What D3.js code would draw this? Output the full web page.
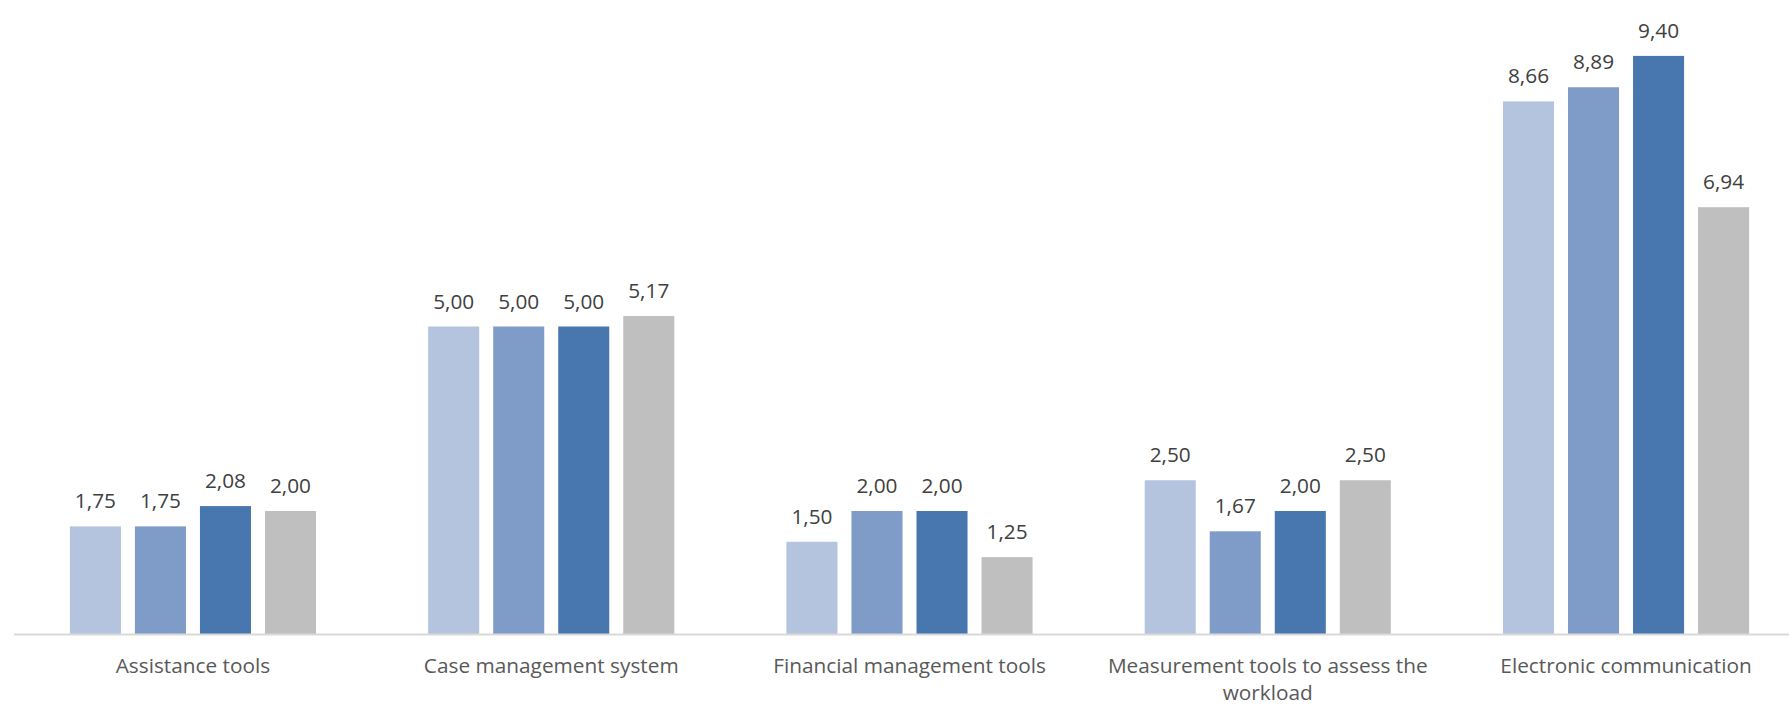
<!DOCTYPE html>
<meta charset="utf-8">
<style>
    body {
        margin: 0;
        background: #fff;
    }
    text {
        font-family: "Open Sans", sans-serif;
    }
</style>

<body>
    <script src="https://d3js.org/d3.v7.min.js"></script>
    <script>
        var width = 1789
        var height = 705

        var categories = [
            'Assistance tools',
            'Case management system',
            'Financial management tools',
            'Measurement tools to assess the workload',
            'Electronic communication'
        ]
        var seriesNames = ['s1', 's2', 's3', 's4']
        var s1 = [1.75, 5.00, 1.50, 2.50, 8.66]
        var s2 = [1.75, 5.00, 2.00, 1.67, 8.89]
        var s3 = [2.08, 5.00, 2.00, 2.00, 9.40]
        var s4 = [2.00, 5.17, 1.25, 2.50, 6.94]
        var colors = ['#b4c4de', '#7f9cc8', '#4877af', '#bfbfbf']

        var series = [s1, s2, s3, s4]
        var rows = categories.map(function (c, i) {
            return { cat: c, values: series.map(function (s, j) { return { key: seriesNames[j], v: s[i] } }) }
        })

        var svg = d3.select('body')
            .append('svg')
            .attr('width', width)
            .attr('height', height)

        var x0 = d3.scaleBand()
            .domain(categories)
            .range([14, 1805])
            .paddingInner(0.313)
            .paddingOuter(0.156)

        var x1 = d3.scaleBand()
            .domain(seriesNames)
            .range([0, x0.bandwidth()])
            .paddingInner(0.215)

        var y = d3.scaleLinear()
            .domain([0, 10])
            .range([634, 19])

        var groups = svg.selectAll('.group')
            .data(rows)
            .enter().append('g')
            .attr('class', 'group')
            .attr('transform', function (d) { return 'translate(' + x0(d.cat) + ',0)' })

        groups.selectAll('rect')
            .data(function (d) { return d.values })
            .enter().append('rect')
            .attr('x', function (d) { return x1(d.key) })
            .attr('width', x1.bandwidth())
            .attr('y', function (d) { return y(d.v) })
            .attr('height', function (d) { return y(0) - y(d.v) })
            .style('fill', function (d, i) { return colors[i] })

        groups.selectAll('.val')
            .data(function (d) { return d.values })
            .enter().append('text')
            .attr('class', 'val')
            .attr('x', function (d) { return x1(d.key) + x1.bandwidth() / 2 })
            .attr('y', function (d) { return y(d.v) - 18 })
            .attr('text-anchor', 'middle')
            .style('font-size', '20.8px')
            .style('fill', '#404040')
            .text(function (d) { return d.v.toFixed(2).replace('.', ',') })

        // x axis
        var xAxis = svg.append('g')
            .attr('transform', 'translate(0,' + y(0) + ')')
            .call(d3.axisBottom(x0).tickSize(0).tickPadding(0))

        xAxis.select('.domain')
            .attr('d', 'M14,0.5H1805')
            .style('stroke', '#d9d9d9')
            .style('stroke-width', 2)

        xAxis.selectAll('.tick text')
            .attr('y', 39)
            .attr('dy', 0)
            .style('font-family', '"Open Sans", sans-serif')
            .style('font-size', '20.8px')
            .style('fill', '#595959')
            .call(wrap, 340)

        function wrap(texts, maxWidth) {
            texts.each(function () {
                var t = d3.select(this)
                var words = t.text().split(' ')
                var yy = t.attr('y')
                t.text(null)
                var line = []
                var tspan = t.append('tspan').attr('x', 0).attr('y', yy)
                var lineNo = 0
                words.forEach(function (w) {
                    line.push(w)
                    tspan.text(line.join(' '))
                    if (tspan.node().getComputedTextLength() > maxWidth && line.length > 1) {
                        line.pop()
                        tspan.text(line.join(' '))
                        line = [w]
                        lineNo++
                        tspan = t.append('tspan').attr('x', 0).attr('y', +yy + lineNo * 27).text(w)
                    }
                })
            })
        }
    </script>
</body>
